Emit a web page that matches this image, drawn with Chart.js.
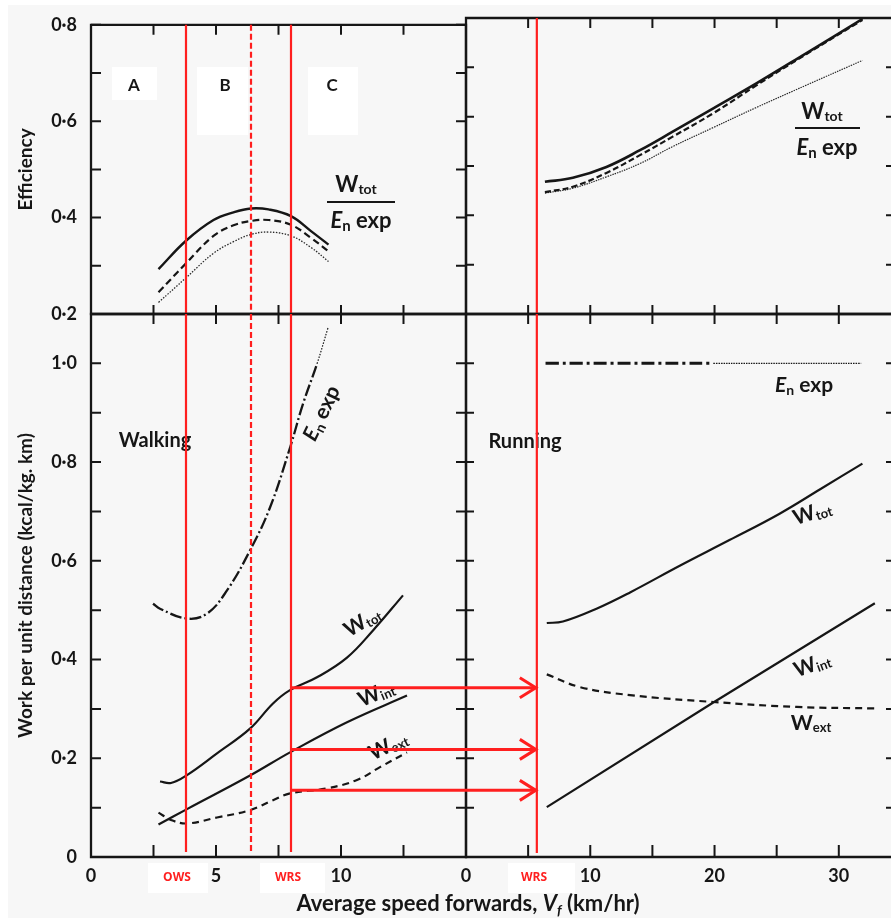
<!DOCTYPE html>
<html><head><meta charset="utf-8">
<script src="https://cdn.jsdelivr.net/npm/chart.js@4.4.1/dist/chart.umd.min.js"></script>
<style>
html,body{margin:0;padding:0;background:#fff;}
#wrap{position:relative;width:891px;height:918px;overflow:hidden;background:#fff;}
#bg{position:absolute;left:8px;top:5px;right:0;bottom:0;background:#f7f7f7;}
canvas{position:absolute;left:0;top:0;}
</style></head><body>
<div id="wrap"><div id="bg"></div>
<canvas id="cTL" width="891" height="918"></canvas>
<canvas id="cTR" width="891" height="918"></canvas>
<canvas id="cBL" width="891" height="918"></canvas>
<canvas id="cBR" width="891" height="918"></canvas>
</div>
<script>
// ---------------- data ----------------
// Efficiency, walking (three curves: solid, dashed, dotted)
const effWalkX      = [2.7, 3.8, 4.9, 5.7, 6.4, 7.1, 8.0, 8.8, 9.5];
const effWalkSolid  = [0.293, 0.352, 0.395, 0.411, 0.419, 0.417, 0.403, 0.372, 0.344];
const effWalkDashed = [0.245, 0.305, 0.362, 0.384, 0.393, 0.395, 0.385, 0.358, 0.330];
const effWalkDotted = [0.224, 0.275, 0.326, 0.350, 0.365, 0.370, 0.362, 0.338, 0.309];
// Efficiency, running
const effRunX       = [6.35, 8.6, 11.3, 14.0, 16.6, 19.9, 23.4, 27.4, 31.9];
const effRunSolid   = [0.468, 0.476, 0.498, 0.532, 0.569, 0.617, 0.668, 0.729, 0.798];
const effRunDashed  = [0.447, 0.458, 0.486, 0.522, 0.559, 0.607, 0.664, 0.727, 0.796];
const effRunDotted  = [0.445, 0.455, 0.478, 0.505, 0.539, 0.578, 0.619, 0.664, 0.714];
// Work per unit distance, walking
const enWalkX   = [2.48, 2.76, 3.84, 4.64, 5.44, 6.36, 7.16, 7.96, 8.48, 9.04, 9.48];
const enWalkY   = [0.513, 0.503, 0.483, 0.493, 0.540, 0.621, 0.708, 0.829, 0.918, 0.999, 1.072];
const wtotWalkX = [2.76, 3.2, 3.84, 5.04, 6.36, 7.28, 7.96, 9.04, 10.24, 11.28, 12.48];
const wtotWalkY = [0.153, 0.150, 0.166, 0.210, 0.260, 0.311, 0.338, 0.364, 0.404, 0.459, 0.530];
const wintWalkX = [2.7, 3.84, 6.36, 7.96, 10.24, 12.64];
const wintWalkY = [0.066, 0.097, 0.165, 0.212, 0.273, 0.327];
const wextWalkX = [2.7, 3.2, 3.84, 5.04, 6.36, 7.28, 7.96, 9.44, 10.64, 11.56, 12.64];
const wextWalkY = [0.090, 0.075, 0.068, 0.080, 0.095, 0.115, 0.129, 0.139, 0.156, 0.182, 0.212];
// Work per unit distance, running
const enRunX   = [6.4, 19.9, 31.8];
const enRunY   = [1.0, 1.0, 1.0];
const wtotRunX = [6.5, 7.8, 10.5, 13.2, 17.2, 21.2, 25.2, 28.5, 31.9];
const wtotRunY = [0.474, 0.477, 0.503, 0.536, 0.590, 0.642, 0.695, 0.745, 0.797];
const wintRunX = [6.5, 19.9, 32.9];
const wintRunY = [0.101, 0.313, 0.514];
const wextRunX = [6.5, 9.2, 13.2, 19.9, 26.6, 32.9];
const wextRunY = [0.370, 0.344, 0.328, 0.314, 0.304, 0.301];
// reference speeds (km/hr) and arrow levels
const walkRefSpeeds = [3.8, 6.4, 8.0];     // OWS, dashed transition, WRS
const runRefSpeed   = 5.7;                 // WRS on running axis
const arrowLevels   = [0.343, 0.218, 0.135];
// tick labels
const walkXLabels = [0, 5, 10];
const runXLabels  = [0, 10, 20, 30];
const effYLabels  = [0.2, 0.4, 0.6, 0.8];
const workYLabels = [0, 0.2, 0.4, 0.6, 0.8, 1.0];

// ---------------- helpers ----------------
const FONT = 'Lato, "Open Sans", "DejaVu Sans", sans-serif';
const INK = '#161616';
const RED = '#ff1f1f';
Chart.defaults.font.family = FONT;
Chart.defaults.color = INK;

const near = (arr, v) => arr.some(a => Math.abs(a - v) < 1e-6);
const fmtDot = v => Math.abs(v) < 1e-9 ? '0' : v.toFixed(1).replace('.', '\u00b7');
const pts = (xs, ys) => xs.map((x, i) => ({x: x, y: ys[i]}));
function ds(xs, ys, extra) {
  return Object.assign({data: pts(xs, ys), borderColor: INK, borderWidth: 2.2, pointRadius: 0,
    pointHoverRadius: 0, fill: false, tension: 0.4, borderCapStyle: 'butt'}, extra || {});
}
const tickFont = {family: FONT, size: 18, weight: 'bold'};
function xScale(min, max, step, labels, show) {
  return {type: 'linear', min: min, max: max, position: 'bottom',
    ticks: {stepSize: step, includeBounds: false, display: show, padding: 8, autoSkip: false, maxRotation: 0,
      font: tickFont, color: INK,
      callback: v => near(labels, v) ? String(Math.round(v)) : ''},
    grid: {display: false, drawTicks: false}, border: {display: false},
    afterFit: s => { s.height = show ? 61 : 0; }};
}
function yScale(min, max, labels, show, title) {
  return {type: 'linear', min: min, max: max, position: 'left',
    ticks: {stepSize: 0.1, includeBounds: false, display: show, padding: 14, autoSkip: false,
      font: tickFont, color: INK,
      callback: v => near(labels, v) ? fmtDot(v) : ''},
    grid: {display: false, drawTicks: false}, border: {display: false},
    title: title ? {display: true, text: title, color: INK, font: {family: FONT, size: 19, weight: 'bold'},
      padding: {top: 14, bottom: 0}} : {display: false},
    afterFit: s => { s.width = show ? 91 : 0; }};
}
function opts(pad, xs, ys) {
  return {responsive: false, animation: false, events: [],
    layout: {padding: pad, autoPadding: false},
    plugins: {legend: {display: false}, tooltip: {enabled: false}},
    scales: {x: xs, y: ys}};
}
function frame(chart, o) {
  const ctx = chart.ctx, a = chart.chartArea, x = chart.scales.x, y = chart.scales.y;
  ctx.save();
  ctx.strokeStyle = INK; ctx.lineWidth = 2.3; ctx.lineCap = 'square';
  ctx.beginPath();
  if (o.top)    { ctx.moveTo(a.left, a.top);    ctx.lineTo(a.right, a.top); }
  if (o.bottom) { ctx.moveTo(a.left, a.bottom); ctx.lineTo(a.right, a.bottom); }
  if (o.left)   { ctx.moveTo(a.left, a.top);    ctx.lineTo(a.left, a.bottom); }
  if (o.right)  { ctx.moveTo(a.right, a.top);   ctx.lineTo(a.right, a.bottom); }
  ctx.stroke();
  ctx.lineWidth = 2; ctx.lineCap = 'butt';
  ctx.beginPath();
  x.ticks.forEach(t => {
    const p = x.getPixelForValue(t.value);
    if (o.tTop)    { ctx.moveTo(p, a.top);    ctx.lineTo(p, a.top + o.tTop); }
    if (o.tBottom) { ctx.moveTo(p, a.bottom); ctx.lineTo(p, a.bottom - o.tBottom); }
  });
  y.ticks.forEach(t => {
    const p = y.getPixelForValue(t.value);
    if (o.tLeft)  { ctx.moveTo(a.left, p);  ctx.lineTo(a.left + o.tLeft, p); }
    if (o.tRight) { ctx.moveTo(a.right, p); ctx.lineTo(a.right - o.tRight, p); }
  });
  ctx.stroke();
  ctx.restore();
}
function redV(chart, value, dashed, gap) {
  const ctx = chart.ctx, a = chart.chartArea, p = chart.scales.x.getPixelForValue(value);
  ctx.save();
  ctx.strokeStyle = RED; ctx.lineWidth = 2.2; ctx.setLineDash(dashed ? [6, 3] : []);
  ctx.beginPath(); ctx.moveTo(p, a.top); ctx.lineTo(p, a.bottom - (gap || 0)); ctx.stroke();
  ctx.restore();
}
function fontStr(p) {
  return (p.italic ? 'italic ' : '') + (p.weight || 'bold') + ' ' + p.size + 'px ' + FONT;
}
function rich(ctx, cx, cy, parts, angle, color) {
  ctx.save();
  ctx.translate(cx, cy); ctx.rotate((angle || 0) * Math.PI / 180);
  let w = 0;
  parts.forEach(p => { ctx.font = fontStr(p); p.w = ctx.measureText(p.t).width; w += p.w; });
  const base = parts[0].size * 0.36;
  let x = -w / 2;
  ctx.textAlign = 'left'; ctx.textBaseline = 'alphabetic'; ctx.fillStyle = color || INK;
  parts.forEach(p => { ctx.font = fontStr(p); ctx.fillText(p.t, x, base + (p.dy || 0)); x += p.w; });
  ctx.restore();
}
const W = (sub, S) => [{t: 'W', size: S}, {t: sub, size: Math.round(S * 0.64), dy: S * 0.1}];
const En = S => [{t: 'E', size: S, italic: true}, {t: 'n', size: Math.round(S * 0.66), dy: S * 0.16},
                 {t: ' exp', size: S}];
function fraction(ctx, cx, cyTop, S, x0, x1, lineY) {
  rich(ctx, cx - 5, cyTop, W('tot', S));
  ctx.save(); ctx.strokeStyle = INK; ctx.lineWidth = 2.2;
  ctx.beginPath(); ctx.moveTo(x0, lineY); ctx.lineTo(x1, lineY); ctx.stroke(); ctx.restore();
  rich(ctx, cx, cyTop + 36, En(S));
}
function whiteBox(ctx, x, y, w, h) { ctx.save(); ctx.fillStyle = '#ffffff'; ctx.fillRect(x, y, w, h); ctx.restore(); }
function boxLabel(ctx, x, y, w, h, text, tx, ty, color, font) {
  whiteBox(ctx, x, y, w, h);
  ctx.save(); ctx.fillStyle = color; ctx.font = font; ctx.textAlign = 'center'; ctx.textBaseline = 'middle';
  ctx.fillText(text, tx, ty); ctx.restore();
}

const charts = {};
const dashDot = [12, 3, 2, 3];

// ---------------- top-left: efficiency, walking ----------------
charts.TL = new Chart(document.getElementById('cTL'), {
  type: 'line',
  data: {datasets: [
    ds(effWalkX, effWalkSolid, {borderWidth: 2.4}),
    ds(effWalkX, effWalkDashed, {borderDash: [7, 4]}),
    ds(effWalkX, effWalkDotted, {borderWidth: 1.3, borderDash: [1.5, 1.5], borderColor: '#2a2a2a'})
  ]},
  options: opts({left: 0, top: 18, right: 425, bottom: 604},
    xScale(0, 15, 2.5, walkXLabels, false), yScale(0.2, 0.8, effYLabels, true, 'Efficiency')),
  plugins: [{id: 'decoTL', afterDraw(chart) {
    const ctx = chart.ctx;
    frame(chart, {top: 1, bottom: 1, left: 1, right: 1, tTop: 10, tBottom: 9, tLeft: 10, tRight: 10});
    boxLabel(ctx, 112, 67, 45, 33, 'A', 134, 86, INK, 'bold 17px ' + FONT);
    boxLabel(ctx, 197, 67, 51, 68, 'B', 225, 86, INK, 'bold 17px ' + FONT);
    boxLabel(ctx, 308, 67, 50, 68, 'C', 332, 86, INK, 'bold 17px ' + FONT);
    fraction(ctx, 361, 184, 22, 327, 395, 202);
    walkRefSpeeds.forEach((v, i) => redV(chart, v, i === 1, 0));
  }}]
});

// ---------------- top-right: efficiency, running ----------------
charts.TR = new Chart(document.getElementById('cTR'), {
  type: 'line',
  data: {datasets: [
    ds(effRunX, effRunSolid, {borderWidth: 2.6}),
    ds(effRunX, effRunDashed, {borderDash: [6, 3]}),
    ds(effRunX, effRunDotted, {borderWidth: 1.2, borderDash: [1.5, 1], borderColor: '#2a2a2a'})
  ]},
  options: opts({left: 466, top: 18, right: 0, bottom: 604},
    xScale(0, 34.2, 5, runXLabels, false), yScale(0.2, 0.8, effYLabels, false, null)),
  plugins: [{id: 'decoTR', afterDraw(chart) {
    const ctx = chart.ctx;
    frame(chart, {top: 1, bottom: 1, left: 1, right: 0, tTop: 10, tBottom: 9, tLeft: 8, tRight: 5});
    fraction(ctx, 827, 111, 22, 795, 860, 128);
    redV(chart, runRefSpeed, false, 0);
  }}]
});

// ---------------- bottom-left: work, walking ----------------
charts.BL = new Chart(document.getElementById('cBL'), {
  type: 'line',
  data: {datasets: [
    ds(enWalkX, enWalkY, {segment: {
      borderDash: c => c.p0.parsed.x >= 9.0 ? [1.5, 1.5] : dashDot,
      borderWidth: c => c.p0.parsed.x >= 9.0 ? 1.2 : 2.3}}),
    ds(wtotWalkX, wtotWalkY),
    ds(wintWalkX, wintWalkY),
    ds(wextWalkX, wextWalkY, {borderDash: [7, 5]})
  ]},
  options: opts({left: 0, top: 314, right: 425, bottom: 0},
    xScale(0, 15, 2.5, walkXLabels, true),
    yScale(0, 1.1, workYLabels, true, 'Work per unit distance (kcal/kg. km)')),
  plugins: [{id: 'decoBL', afterDraw(chart) {
    const ctx = chart.ctx;
    frame(chart, {top: 1, bottom: 1, left: 1, right: 1, tTop: 10, tBottom: 12, tLeft: 10, tRight: 10});
    rich(ctx, 155, 440, [{t: 'Walking', size: 20}]);
    rich(ctx, 321, 413, En(21), -64);
    rich(ctx, 362, 621, W('tot', 21), -31);
    rich(ctx, 376, 693, W('int', 21), -23);
    rich(ctx, 388, 745, W('ext', 21), -26);
    walkRefSpeeds.forEach((v, i) => redV(chart, v, i === 1, 5));
    boxLabel(ctx, 148, 863, 60, 30, 'OWS', 177, 878, RED, 'bold 12px "Open Sans", ' + FONT);
    boxLabel(ctx, 260, 863, 65, 30, 'WRS', 288, 878, RED, 'bold 12px "Open Sans", ' + FONT);
    rich(ctx, 468, 903, [{t: 'Average speed forwards, ', size: 22}, {t: 'V', size: 22, italic: true},
      {t: 'f', size: 14, italic: true, dy: 4}, {t: ' (km/hr)', size: 22}]);
  }}]
});

// ---------------- bottom-right: work, running ----------------
charts.BR = new Chart(document.getElementById('cBR'), {
  type: 'line',
  data: {datasets: [
    ds(enRunX, enRunY, {borderWidth: 3, segment: {
      borderDash: c => c.p0.parsed.x >= 19.8 ? [1.5, 1] : [13, 4, 3, 4],
      borderWidth: c => c.p0.parsed.x >= 19.8 ? 1.3 : 3}}),
    ds(wtotRunX, wtotRunY),
    ds(wintRunX, wintRunY, {tension: 0}),
    ds(wextRunX, wextRunY, {borderDash: [7, 5]})
  ]},
  options: opts({left: 466, top: 314, right: 0, bottom: 0},
    xScale(0, 34.2, 5, runXLabels, true), yScale(0, 1.1, workYLabels, false, null)),
  plugins: [{id: 'decoBR', afterDraw(chart) {
    const ctx = chart.ctx;
    frame(chart, {top: 1, bottom: 1, left: 1, right: 0, tTop: 10, tBottom: 12, tLeft: 8, tRight: 5});
    rich(ctx, 525, 441, [{t: 'Running', size: 20}]);
    rich(ctx, 804, 384, En(21));
    rich(ctx, 812, 512, W('tot', 21), -18);
    rich(ctx, 812, 664, W('int', 21), -20);
    rich(ctx, 811, 722, W('ext', 21), 0);
    redV(chart, runRefSpeed, false, 4);
    boxLabel(ctx, 508, 863, 67, 30, 'WRS', 534, 878, RED, 'bold 12px "Open Sans", ' + FONT);
    // arrows from walking WRS to running WRS
    const L = charts.BL;
    const x0 = L.scales.x.getPixelForValue(walkRefSpeeds[2]);
    const x1 = chart.scales.x.getPixelForValue(runRefSpeed);
    ctx.save(); ctx.strokeStyle = RED; ctx.lineWidth = 3; ctx.lineCap = 'butt'; ctx.lineJoin = 'miter';
    arrowLevels.forEach(v => {
      const py = L.scales.y.getPixelForValue(v);
      ctx.beginPath(); ctx.moveTo(x0, py); ctx.lineTo(x1 - 1, py); ctx.stroke();
      ctx.beginPath(); ctx.moveTo(x1 - 17, py - 10); ctx.lineTo(x1 - 1, py); ctx.lineTo(x1 - 17, py + 10); ctx.stroke();
    });
    ctx.restore();
  }}]
});
</script>
</body></html>
